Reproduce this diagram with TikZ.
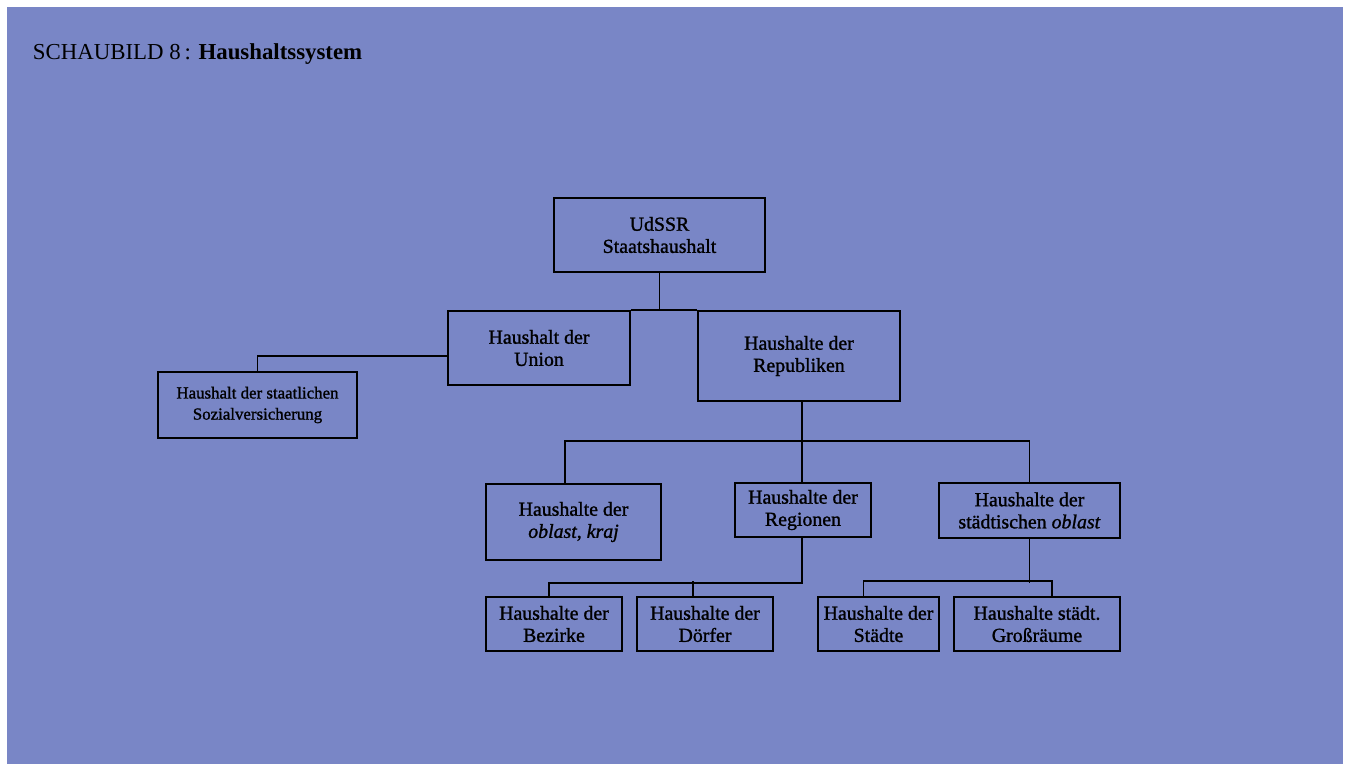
\documentclass[tikz,border=0pt]{standalone}
\usepackage{fontspec}
\setmainfont{Liberation Serif}
\newfontfamily\boxfont[FakeBold=1.2]{Liberation Serif}
\definecolor{paperblue}{RGB}{121,134,198}

\begin{document}
\begin{tikzpicture}[x=0.02cm, y=-0.02cm, line width=1.1pt,
    box/.style={draw, rectangle, align=center, inner sep=0pt,
        font=\boxfont\fontsize{11.3}{12.6}\selectfont},
    boxsize/.style 2 args={minimum width=#1*0.02cm, minimum height=#2*0.02cm}]

    % 1. Page and background
    \useasboundingbox (0,0) rectangle (1350,764);
    \fill[white] (0,0) rectangle (1350,764);
    \fill[paperblue] (7,7) rectangle (1343,764);

    % 2. Title
    \node[anchor=base west, inner sep=0pt, font=\fontsize{13}{15}\selectfont] (title) at (32,59)
        {SCHAUBILD 8\,: \textbf{Haushaltssystem}};

    % 3. Boxes, top to bottom
    \node[box, boxsize={211}{74}] (udssr) at (659.5,235) {UdSSR\\Staatshaushalt};
    \node[box, boxsize={182}{74}] (union) at (539,348) {Haushalt der\\Union};
    \node[box, boxsize={202}{90}] (repub) at (799,356) {Haushalte der\\Republiken};
    \node[box, boxsize={199}{66}, font=\boxfont\fontsize{9.6}{12}\selectfont] (sozial) at (257.5,405)
        {Haushalt der staatlichen\\Sozialversicherung};

    \node[box, boxsize={175}{76}] (oblast) at (573.5,522) {Haushalte der\\\textit{oblast}, \textit{kraj}};
    \node[box, boxsize={136}{54}] (region) at (803,510) {Haushalte der\\Regionen};
    \node[box, boxsize={181}{55}] (stobl) at (1029.5,510.5) {Haushalte der\\städtischen \textit{oblast}};

    \node[box, boxsize={136}{54}] (bezirke) at (554,624) {Haushalte der\\Bezirke};
    \node[box, boxsize={136}{54}] (doerfer) at (705,624) {Haushalte der\\Dörfer};
    \node[box, boxsize={121}{54}] (staedte) at (878.5,624) {Haushalte der\\Städte};
    \node[box, boxsize={166}{54}] (gross) at (1037,624) {Haushalte städt.\\Großräume};

    % 4. Connectors
    \draw (udssr.south) -- (udssr.south |- union.north);
    \draw (union.north east) -- (repub.north west);
    \draw ([yshift=-0.16cm]union.west) -| (sozial.north);

    \coordinate (bus1) at (802,441);
    \draw (repub.south -| bus1) -- (region.north -| bus1);
    \draw ([xshift=-0.17cm]oblast.north) |- (bus1) -| (stobl.north);

    \draw (region.south -| bus1) -- ++(0,45) -| ([xshift=-0.1cm]bezirke.north);
    \draw ([xshift=-0.24cm]doerfer.north) -- ++(0,-15);

    \draw (stobl.south) -- ++(0,44);
    \draw ([xshift=-0.3cm]staedte.north) -- ++(0,-15) -| ([xshift=0.3cm]gross.north);

\end{tikzpicture}
\end{document}
